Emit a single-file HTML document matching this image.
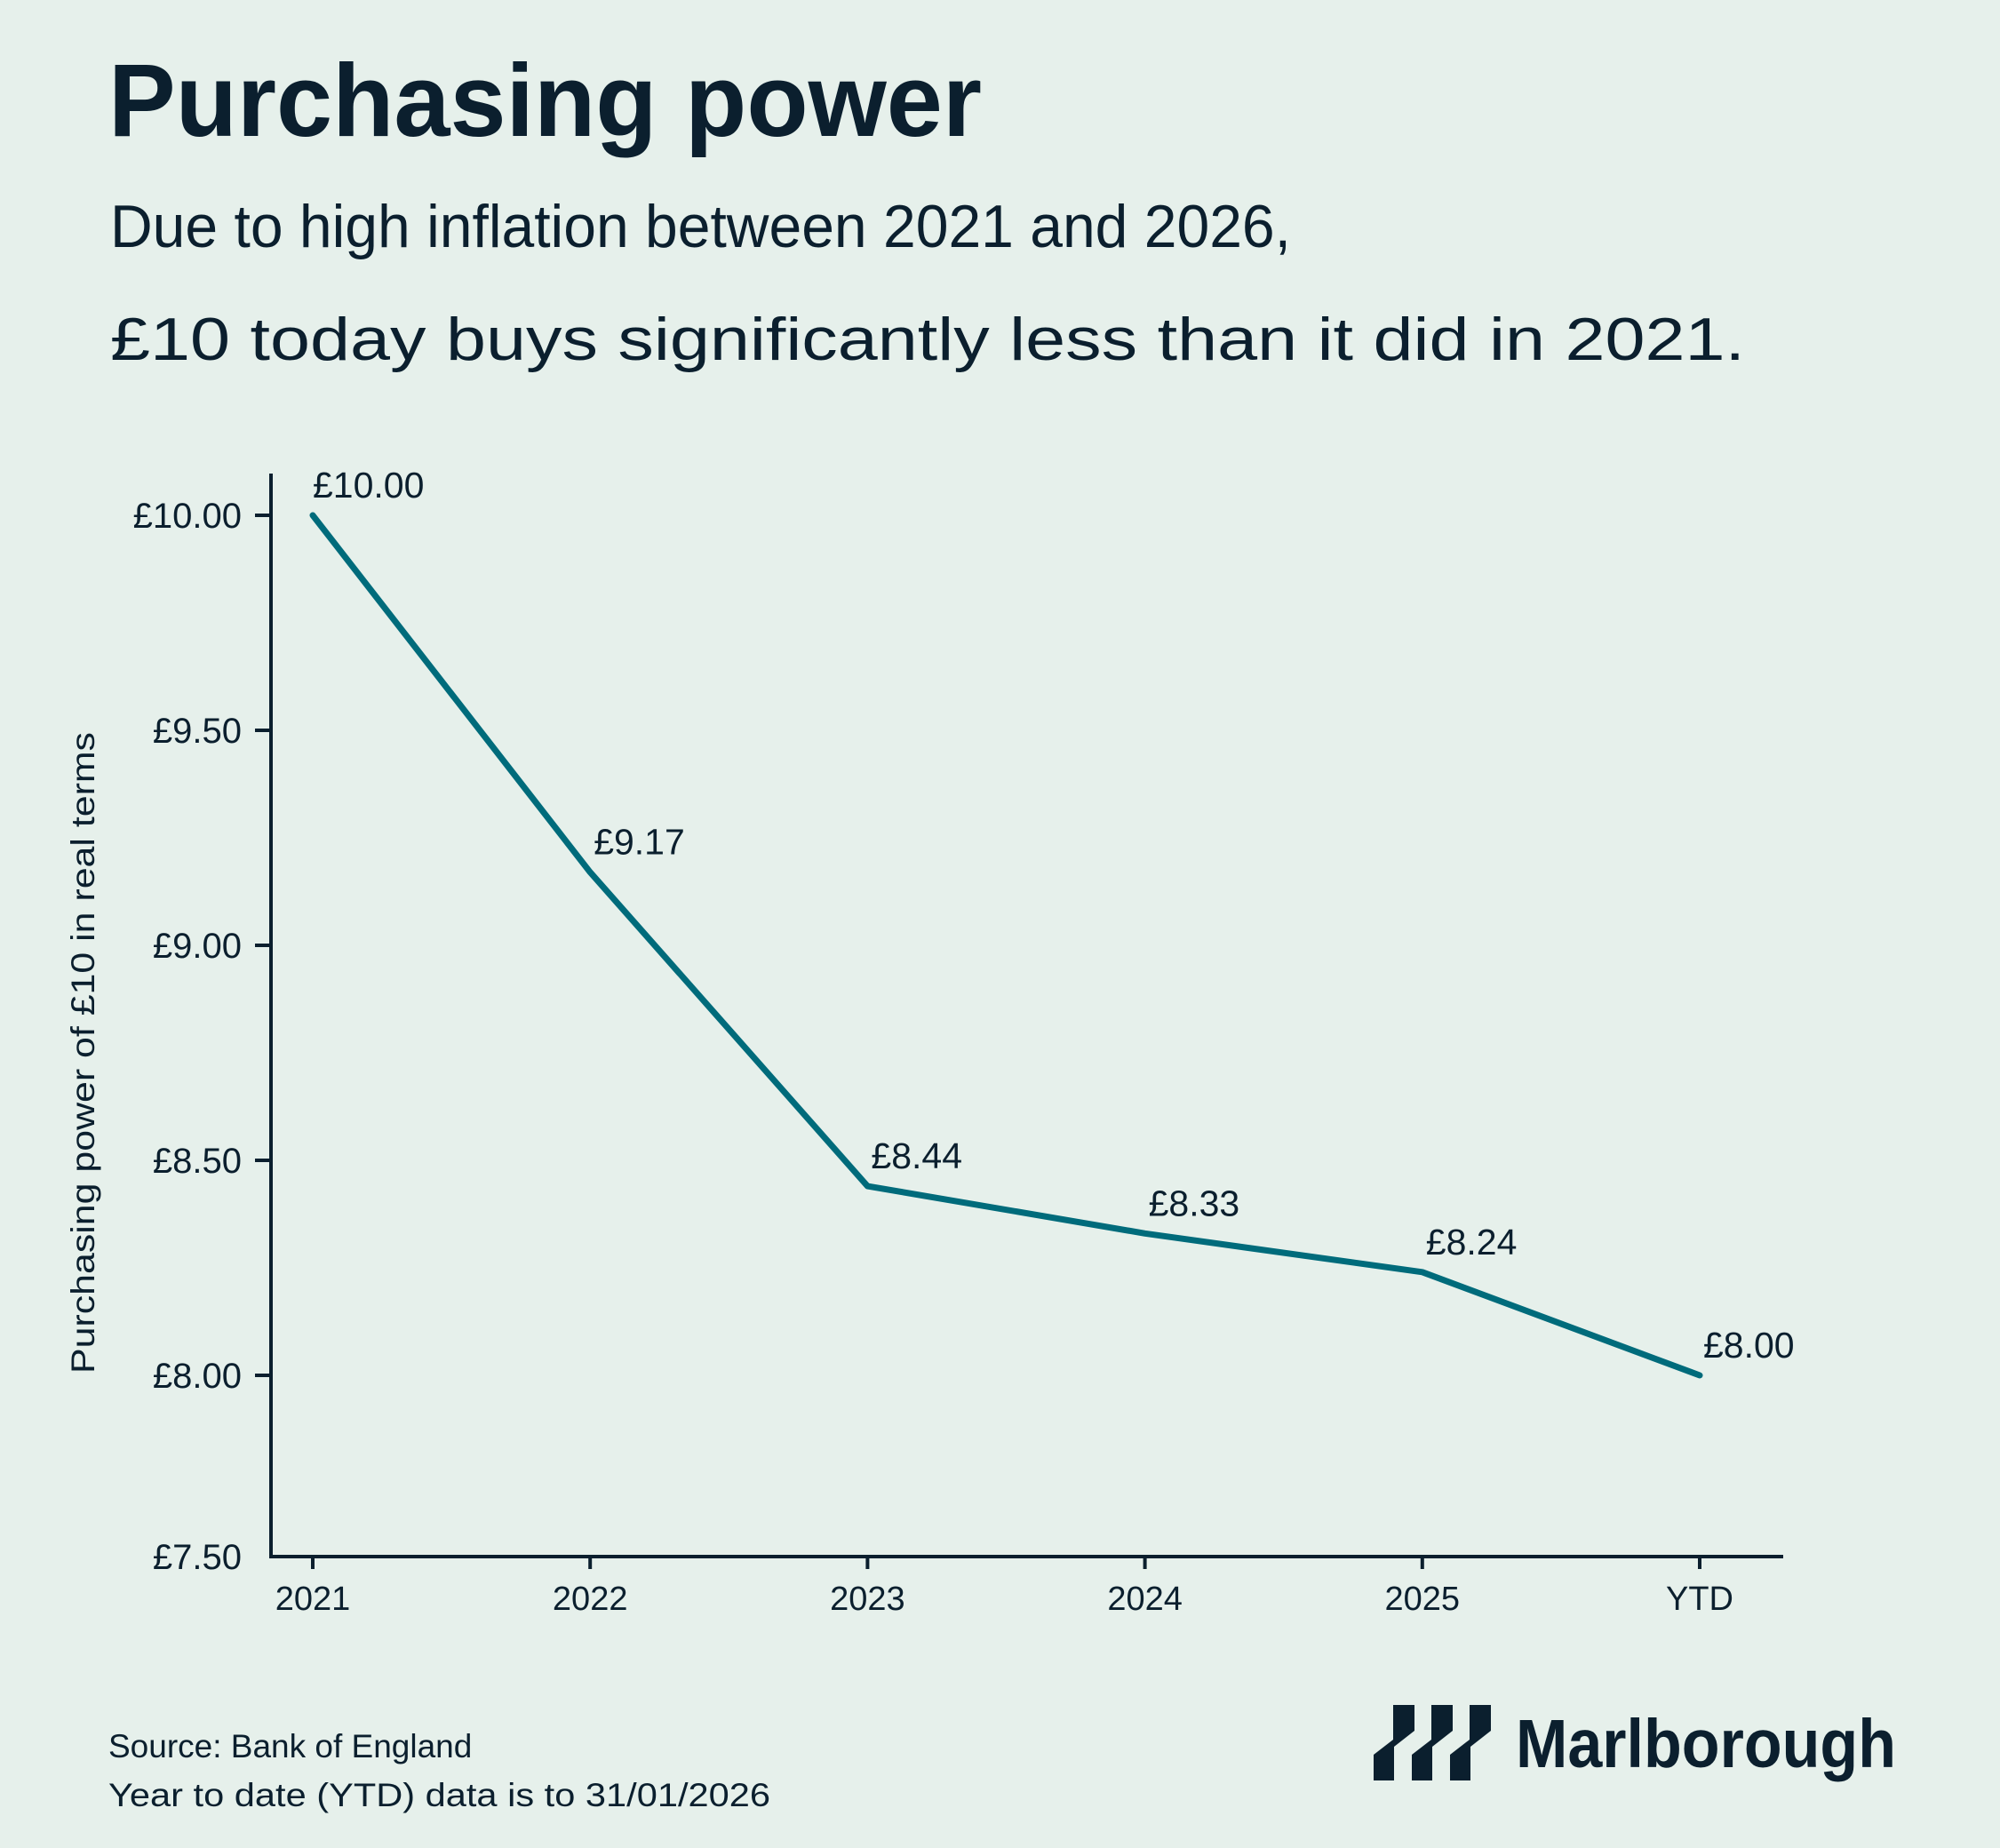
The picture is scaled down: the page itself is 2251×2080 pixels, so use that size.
<!DOCTYPE html>
<html><head><meta charset="utf-8"><style>
html,body{margin:0;padding:0;background:#e6f0eb;}
svg{display:block;font-family:"Liberation Sans",sans-serif;}
</style></head><body>
<svg id="chart" width="2251" height="2080" viewBox="0 0 2251 2080" xmlns="http://www.w3.org/2000/svg">
<rect width="2251" height="2080" fill="#e6f0eb"/>
<text x="122" y="153" font-size="116" font-weight="bold" fill="#0b1f2e" textLength="983" lengthAdjust="spacingAndGlyphs">Purchasing power</text>
<text x="124" y="278" font-size="68" fill="#0b1f2e" textLength="1329" lengthAdjust="spacingAndGlyphs">Due to high inflation between 2021 and 2026,</text>
<text x="124" y="405" font-size="68" fill="#0b1f2e" textLength="1840" lengthAdjust="spacingAndGlyphs">£10 today buys significantly less than it did in 2021.</text>
<text transform="translate(106,1185) rotate(-90)" text-anchor="middle" font-size="37" fill="#0b1f2e" textLength="722" lengthAdjust="spacingAndGlyphs">Purchasing power of £10 in real terms</text>
<g id="axes"></g>
<g id="marks"></g>
<text x="122" y="1978" font-size="37" fill="#0b1f2e">Source: Bank of England</text>
<text x="122" y="2033" font-size="37" fill="#0b1f2e" textLength="745" lengthAdjust="spacingAndGlyphs">Year to date (YTD) data is to 31/01/2026</text>
<g fill="#0b1f2e">
<polygon points="1568,1919 1592,1919 1592,1948 1569,1966 1569,2004 1546,2004 1546,1975 1568,1958"/>
<polygon points="1611,1919 1635,1919 1635,1948 1612,1966 1612,2004 1589,2004 1589,1975 1611,1958"/>
<polygon points="1654,1919 1678,1919 1678,1948 1655,1966 1655,2004 1632,2004 1632,1975 1654,1958"/>
<text x="1706" y="1989" font-size="77" font-weight="bold" textLength="428" lengthAdjust="spacingAndGlyphs">Marlborough</text>
</g>
</svg>
<script>
const categories = ["2021","2022","2023","2024","2025","YTD"];
const values = [10.00, 9.17, 8.44, 8.33, 8.24, 8.00];
const valueLabels = ["£10.00","£9.17","£8.44","£8.33","£8.24","£8.00"];
const yTicks = [10.00, 9.50, 9.00, 8.50, 8.00];
const yTickLabels = ["£10.00","£9.50","£9.00","£8.50","£8.00"];
const yMinLabel = "£7.50";

const NS = "http://www.w3.org/2000/svg";
const ink = "#0b1f2e";
const axisX = 305, axisBottom = 1752, axisTop = 533, axisRight = 2007;
function x(i){ return 352 + i * 312.2; }
function y(v){ return 580 + (10 - v) * 484; }
function mk(tag, attrs, parent){
  const e = document.createElementNS(NS, tag);
  for (const k in attrs) e.setAttribute(k, attrs[k]);
  parent.appendChild(e); return e;
}
const axes = document.getElementById('axes');
const marks = document.getElementById('marks');

let l = mk('line', {x1:axisX, y1:axisTop, x2:axisX, y2:axisBottom+2, stroke:ink, 'stroke-width':4}, axes);


l = mk('line', {x1:axisX-2, y1:axisBottom, x2:axisRight, y2:axisBottom, stroke:ink, 'stroke-width':4}, axes);



yTicks.forEach((v, i) => {
  const t = mk('line', {x1:axisX-18, y1:y(v), x2:axisX, y2:y(v), stroke:ink, 'stroke-width':4}, axes);
  
  
  const tx = mk('text', {x:272, y:y(v)+14, 'text-anchor':'end', 'font-size':40, fill:ink}, axes);
  tx.textContent = yTickLabels[i];
  
  
});
const mn = mk('text', {x:272, y:axisBottom+14, 'text-anchor':'end', 'font-size':40, fill:ink}, axes);
mn.textContent = yMinLabel;



categories.forEach((c, i) => {
  const t = mk('line', {x1:x(i), y1:axisBottom, x2:x(i), y2:axisBottom+14, stroke:ink, 'stroke-width':4}, axes);
  
  
  const tx = mk('text', {x:x(i), y:1812, 'text-anchor':'middle', 'font-size':38, fill:ink}, axes);
  tx.textContent = c;
  
  
});

const pts = values.map((v, i) => x(i) + ',' + y(v)).join(' ');
const line = mk('polyline', {points:pts, fill:'none', stroke:'#006b7b', 'stroke-width':7, 'stroke-linejoin':'round', 'stroke-linecap':'round'}, marks);



values.forEach((v, i) => {
  const tx = mk('text', {x:x(i) + (i === 0 ? 0 : 4), y:y(v) - 20, 'font-size':41, fill:ink}, marks);
  tx.textContent = valueLabels[i];
  
  
});
</script>
</body></html>
